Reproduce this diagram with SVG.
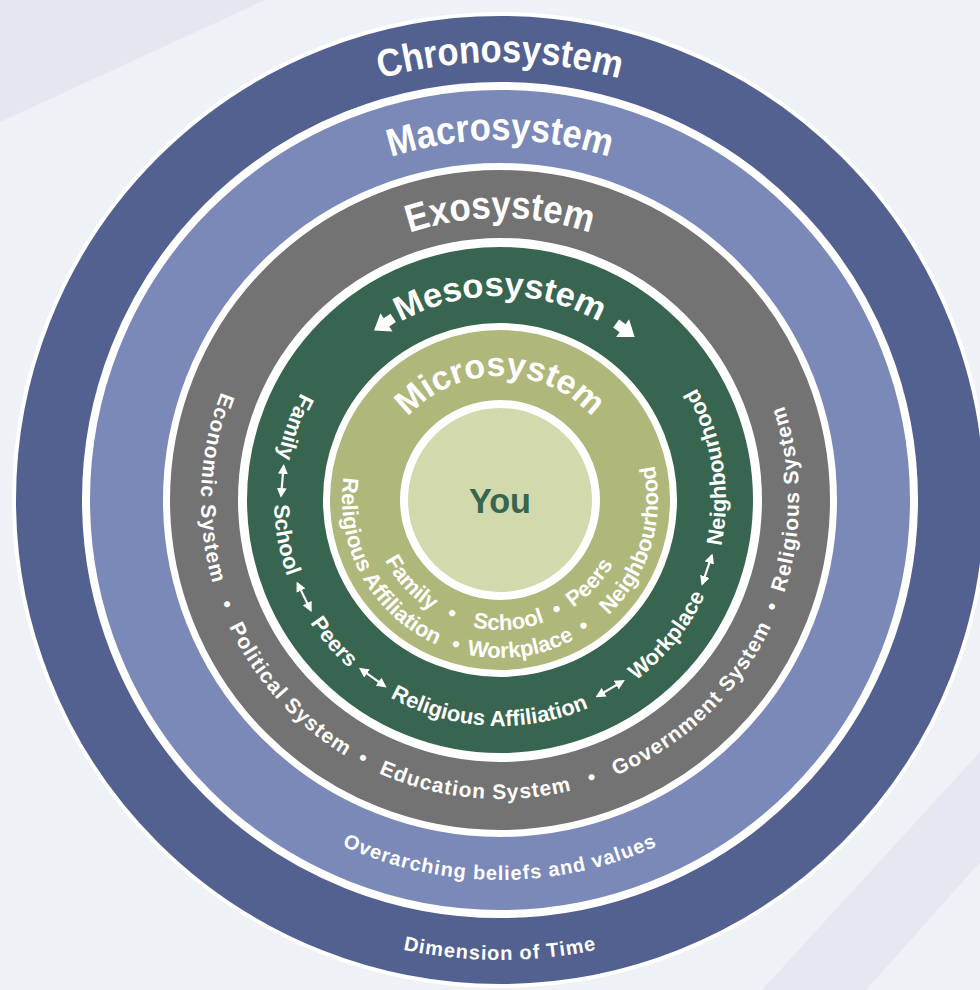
<svg xmlns="http://www.w3.org/2000/svg" width="980" height="990" viewBox="0 0 980 990">
  <style>
    .ring { stroke: #ffffff; }
    .lbl { font-family: "Liberation Sans", Arial, Helvetica, sans-serif; font-weight: bold; fill: #ffffff; }
    .title { font-size: 39px; }
    .sub { font-size: 34px; }
    .meso { font-size: 22px; }
    .micro { font-size: 22px; }
    .exo { font-size: 21px; letter-spacing: 1px; }
    .outer { font-size: 20px; letter-spacing: 1px; }
    .you { font-family: "Liberation Sans", Arial, Helvetica, sans-serif; font-weight: bold; font-size: 35px; fill: #37654f; }
    .link { stroke: #ffffff; stroke-width: 2.2; fill: none; marker-start: url(#head); marker-end: url(#head); }
  </style>
  <defs>
    <marker id="head" viewBox="0 0 10 10" refX="8" refY="5" markerWidth="4.5" markerHeight="4.5" orient="auto-start-reverse" markerUnits="strokeWidth">
      <path d="M0,0 L10,5 L0,10 Z" fill="#ffffff"/>
    </marker>
    <!-- clockwise circles starting at the bottom: titles read over the top -->
    <path id="cw438" d="M500,938 A438,438 0 1,1 500,62 A438,438 0 1,1 500,938"/>
    <path id="cw360" d="M500,860 A360,360 0 1,1 500,140 A360,360 0 1,1 500,860"/>
    <path id="cw282" d="M500,782 A282,282 0 1,1 500,218 A282,282 0 1,1 500,782"/>
    <path id="cw204" d="M500,704 A204,204 0 1,1 500,296 A204,204 0 1,1 500,704"/>
    <path id="cw124" d="M500,624 A124,124 0 1,1 500,376 A124,124 0 1,1 500,624"/>
    <!-- counter-clockwise circles starting at the top: labels read along the lower part -->
    <path id="ccw460" d="M500,40 A460,460 0 1,0 500,960 A460,460 0 1,0 500,40"/>
    <path id="ccw380" d="M500,120 A380,380 0 1,0 500,880 A380,380 0 1,0 500,120"/>
    <path id="ccw299" d="M500,201 A299,299 0 1,0 500,799 A299,299 0 1,0 500,201"/>
    <path id="ccw226" d="M500,274 A226,226 0 1,0 500,726 A226,226 0 1,0 500,274"/>
    <path id="ccw158" d="M500,342 A158,158 0 1,0 500,658 A158,158 0 1,0 500,342"/>
    <path id="ccw130" d="M500,370 A130,130 0 1,0 500,630 A130,130 0 1,0 500,370"/>
  </defs>

  <!-- background -->
  <rect x="0" y="0" width="980" height="990" fill="#eef1f6"/>
  <polygon points="0,0 265,0 0,122" fill="#e3e7ef"/>
  <polygon points="980,752 980,862 866,990 762,990" fill="#e4e8f0"/>

  <g id="chronosystem">
    <circle class="ring" cx="500" cy="500" r="486" fill="#536190" stroke-width="4"/>
    <text class="lbl title"><textPath href="#cw438" startOffset="50%" text-anchor="middle" textLength="242" lengthAdjust="spacingAndGlyphs">Chronosystem</textPath></text>
    <text class="lbl outer"><textPath href="#ccw460" startOffset="50%" text-anchor="middle">Dimension of Time</textPath></text>
  </g>

  <g id="macrosystem">
    <circle class="ring" cx="500" cy="500" r="414" fill="#7a89b8" stroke-width="8"/>
    <text class="lbl title"><textPath href="#cw360" startOffset="50%" text-anchor="middle" textLength="222" lengthAdjust="spacingAndGlyphs">Macrosystem</textPath></text>
    <text class="lbl outer"><textPath href="#ccw380" startOffset="50%" text-anchor="middle">Overarching beliefs and values</textPath></text>
  </g>

  <g id="exosystem">
    <circle class="ring" cx="500" cy="500" r="333.5" fill="#737373" stroke-width="7"/>
    <text class="lbl title"><textPath href="#cw282" startOffset="50%" text-anchor="middle" textLength="184" lengthAdjust="spacingAndGlyphs">Exosystem</textPath></text>
    <text class="lbl exo"><textPath href="#ccw299" startOffset="24.33%" text-anchor="middle">Economic System</textPath></text>
    <text class="lbl exo"><textPath href="#ccw299" startOffset="30.83%" text-anchor="middle">•</textPath></text>
    <text class="lbl exo"><textPath href="#ccw299" startOffset="36.67%" text-anchor="middle">Political System</textPath></text>
    <text class="lbl exo"><textPath href="#ccw299" startOffset="42.25%" text-anchor="middle">•</textPath></text>
    <text class="lbl exo"><textPath href="#ccw299" startOffset="48.61%" text-anchor="middle">Education System</textPath></text>
    <text class="lbl exo"><textPath href="#ccw299" startOffset="55.11%" text-anchor="middle">•</textPath></text>
    <text class="lbl exo"><textPath href="#ccw299" startOffset="62.22%" text-anchor="middle">Government System</textPath></text>
    <text class="lbl exo"><textPath href="#ccw299" startOffset="69.08%" text-anchor="middle">•</textPath></text>
    <text class="lbl exo"><textPath href="#ccw299" startOffset="75.06%" text-anchor="middle">Religious System</textPath></text>
  </g>

  <g id="mesosystem">
    <circle class="ring" cx="500" cy="500" r="257.5" fill="#37654f" stroke-width="9"/>
    <text class="lbl sub"><textPath href="#cw204" startOffset="50%" text-anchor="middle" textLength="208" lengthAdjust="spacingAndGlyphs">Mesosystem</textPath></text>
    <text class="lbl meso"><textPath href="#ccw226" startOffset="19.58%" text-anchor="middle">Family</textPath></text>
    <text class="lbl meso"><textPath href="#ccw226" startOffset="27.92%" text-anchor="middle">School</textPath></text>
    <text class="lbl meso"><textPath href="#ccw226" startOffset="36.25%" text-anchor="middle">Peers</textPath></text>
    <text class="lbl meso"><textPath href="#ccw226" startOffset="49.17%" text-anchor="middle">Religious Affiliation</textPath></text>
    <text class="lbl meso"><textPath href="#ccw226" startOffset="64.17%" text-anchor="middle">Workplace</textPath></text>
    <text class="lbl meso"><textPath href="#ccw226" startOffset="77.5%" text-anchor="middle">Neighbourhood</textPath></text>
    <!-- circulation arrows beside the title -->
    <polygon points="12,0 -3,-11 -3,-5 -11,-5 -11,5 -3,5 -3,11" fill="#ffffff" transform="translate(384 324) rotate(146.6)"/>
    <polygon points="12,0 -3,-11 -3,-5 -11,-5 -11,5 -3,5 -3,11" fill="#ffffff" transform="translate(625 330) rotate(36.3)"/>
  </g>

  <g id="microsystem">
    <circle class="ring" cx="500" cy="500" r="173.5" fill="#b0b77b" stroke-width="7"/>
    <text class="lbl sub"><textPath href="#cw124" startOffset="50%" text-anchor="middle" textLength="208" lengthAdjust="spacingAndGlyphs">Microsystem</textPath></text>
    <text class="lbl micro"><textPath href="#ccw158" startOffset="33.06%" text-anchor="middle">Religious Affiliation</textPath></text>
    <text class="lbl micro"><textPath href="#ccw158" startOffset="45.28%" text-anchor="middle">•</textPath></text>
    <text class="lbl micro"><textPath href="#ccw158" startOffset="52.22%" text-anchor="middle">Workplace</textPath></text>
    <text class="lbl micro"><textPath href="#ccw158" startOffset="59.33%" text-anchor="middle">•</textPath></text>
    <text class="lbl micro"><textPath href="#ccw158" startOffset="70.28%" text-anchor="middle">Neighbourhood</textPath></text>
    <text class="lbl micro"><textPath href="#ccw130" startOffset="36.94%" text-anchor="middle">Family</textPath></text>
    <text class="lbl micro"><textPath href="#ccw130" startOffset="43.61%" text-anchor="middle">•</textPath></text>
    <text class="lbl micro"><textPath href="#ccw130" startOffset="51.11%" text-anchor="middle">School</textPath></text>
    <text class="lbl micro"><textPath href="#ccw130" startOffset="57.61%" text-anchor="middle">•</textPath></text>
    <text class="lbl micro"><textPath href="#ccw130" startOffset="63.14%" text-anchor="middle">Peers</textPath></text>
  </g>

  <g id="you">
    <circle class="ring" cx="500" cy="500" r="96" fill="#d2d9ac" stroke-width="8"/>
    <text class="you" x="500" y="513" text-anchor="middle" textLength="62" lengthAdjust="spacingAndGlyphs">You</text>
  </g>

  <!-- two-way links between the mesosystem settings -->
  <g id="connectors">
    <path class="link" d="M283.65,466.04 L281.04,495.89"/>
    <path class="link" d="M297.5,583.38 L310.75,610.2"/>
    <path class="link" d="M360.56,668.87 L384.99,686.37"/>
    <path class="link" d="M597.3,696.2 L623.15,681.1"/>
    <path class="link" d="M702.3,583.87 L711.85,555.5"/>
  </g>
</svg>
